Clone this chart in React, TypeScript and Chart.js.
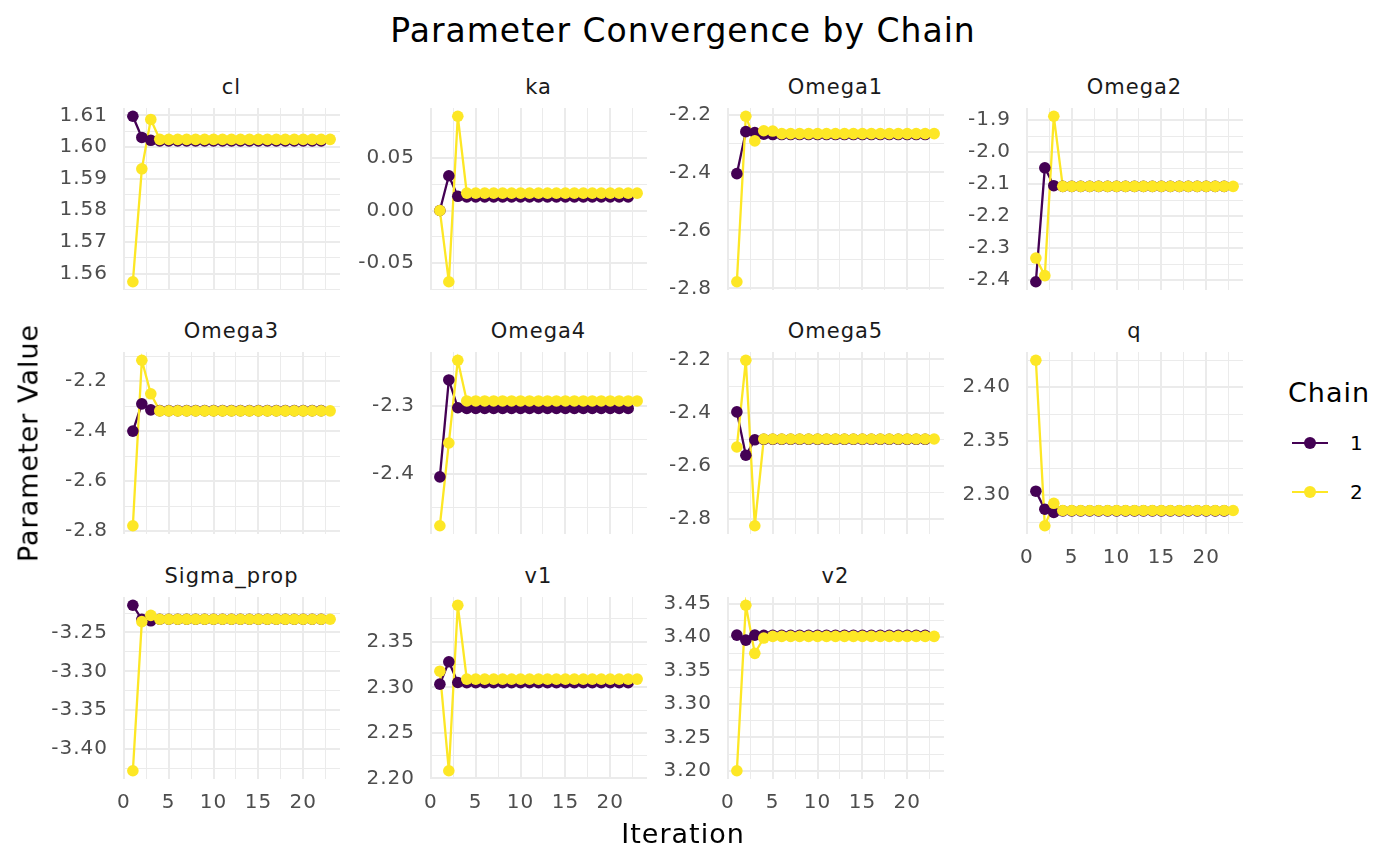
import React, { useEffect, useRef } from "react";
import { Chart, registerables } from "chart.js";

Chart.register(...registerables);

const FONT = "'DejaVu Sans', 'Noto Sans', sans-serif";
const PURPLE = "#440154";
const YELLOW = "#FDE725";
const GRID = "#EBEBEB";
const TICK_COLOR = "#4D4D4D";

const PARAMETERS = ["cl", "ka", "Omega1", "Omega2", "Omega3", "Omega4", "Omega5", "q", "Sigma_prop", "v1", "v2"];
const CHAIN_LABELS = ["1", "2"];

// chain 1: 22 iterations, chain 2: 23 iterations
const cl_chain1 = [1.6097, 1.603, 1.6021,
  1.6019, 1.6019, 1.6019, 1.6019, 1.6019, 1.6019, 1.6019, 1.6019, 1.6019, 1.6019,
  1.6019, 1.6019, 1.6019, 1.6019, 1.6019, 1.6019, 1.6019, 1.6019, 1.6019];
const cl_chain2 = [1.5574, 1.5931, 1.6087,
  1.6024, 1.6024, 1.6024, 1.6024, 1.6024, 1.6024, 1.6024, 1.6024, 1.6024, 1.6024,
  1.6024, 1.6024, 1.6024, 1.6024, 1.6024, 1.6024, 1.6024, 1.6024, 1.6024, 1.6024];

const ka_chain1 = [0.0, 0.0332, 0.0136,
  0.013, 0.013, 0.013, 0.013, 0.013, 0.013, 0.013, 0.013, 0.013, 0.013,
  0.013, 0.013, 0.013, 0.013, 0.013, 0.013, 0.013, 0.013, 0.013];
const ka_chain2 = [0.0, -0.068, 0.09,
  0.0166, 0.0166, 0.0166, 0.0166, 0.0166, 0.0166, 0.0166, 0.0166, 0.0166, 0.0166,
  0.0166, 0.0166, 0.0166, 0.0166, 0.0166, 0.0166, 0.0166, 0.0166, 0.0166, 0.0166];

const omega1_chain1 = [-2.404, -2.259, -2.262, -2.268,
  -2.269, -2.269, -2.269, -2.269, -2.269, -2.269, -2.269, -2.269, -2.269,
  -2.269, -2.269, -2.269, -2.269, -2.269, -2.269, -2.269, -2.269, -2.269];
const omega1_chain2 = [-2.777, -2.206, -2.291, -2.256, -2.257,
  -2.266, -2.266, -2.266, -2.266, -2.266, -2.266, -2.266, -2.266, -2.266,
  -2.266, -2.266, -2.266, -2.266, -2.266, -2.266, -2.266, -2.266, -2.266];

const omega2_chain1 = [-2.405, -2.049, -2.105,
  -2.107, -2.107, -2.107, -2.107, -2.107, -2.107, -2.107, -2.107, -2.107, -2.107,
  -2.107, -2.107, -2.107, -2.107, -2.107, -2.107, -2.107, -2.107, -2.107];
const omega2_chain2 = [-2.331, -2.386, -1.888,
  -2.107, -2.107, -2.107, -2.107, -2.107, -2.107, -2.107, -2.107, -2.107, -2.107,
  -2.107, -2.107, -2.107, -2.107, -2.107, -2.107, -2.107, -2.107, -2.107, -2.107];

const omega3_chain1 = [-2.4, -2.291, -2.315,
  -2.318, -2.318, -2.318, -2.318, -2.318, -2.318, -2.318, -2.318, -2.318, -2.318,
  -2.318, -2.318, -2.318, -2.318, -2.318, -2.318, -2.318, -2.318, -2.318];
const omega3_chain2 = [-2.778, -2.117, -2.251,
  -2.319, -2.319, -2.319, -2.319, -2.319, -2.319, -2.319, -2.319, -2.319, -2.319,
  -2.319, -2.319, -2.319, -2.319, -2.319, -2.319, -2.319, -2.319, -2.319, -2.319];

const omega4_chain1 = [-2.405, -2.262, -2.303,
  -2.304, -2.304, -2.304, -2.304, -2.304, -2.304, -2.304, -2.304, -2.304, -2.304,
  -2.304, -2.304, -2.304, -2.304, -2.304, -2.304, -2.304, -2.304, -2.304];
const omega4_chain2 = [-2.477, -2.355, -2.233,
  -2.293, -2.293, -2.293, -2.293, -2.293, -2.293, -2.293, -2.293, -2.293, -2.293,
  -2.293, -2.293, -2.293, -2.293, -2.293, -2.293, -2.293, -2.293, -2.293, -2.293];

const omega5_chain1 = [-2.397, -2.56, -2.502,
  -2.5, -2.5, -2.5, -2.5, -2.5, -2.5, -2.5, -2.5, -2.5, -2.5,
  -2.5, -2.5, -2.5, -2.5, -2.5, -2.5, -2.5, -2.5, -2.5];
const omega5_chain2 = [-2.529, -2.203, -2.825,
  -2.499, -2.499, -2.499, -2.499, -2.499, -2.499, -2.499, -2.499, -2.499, -2.499,
  -2.499, -2.499, -2.499, -2.499, -2.499, -2.499, -2.499, -2.499, -2.499, -2.499];

const q_chain1 = [2.3037, 2.287, 2.284,
  2.2855, 2.2855, 2.2855, 2.2855, 2.2855, 2.2855, 2.2855, 2.2855, 2.2855, 2.2855,
  2.2855, 2.2855, 2.2855, 2.2855, 2.2855, 2.2855, 2.2855, 2.2855, 2.2855];
const q_chain2 = [2.425, 2.2717, 2.2925,
  2.2858, 2.2858, 2.2858, 2.2858, 2.2858, 2.2858, 2.2858, 2.2858, 2.2858, 2.2858,
  2.2858, 2.2858, 2.2858, 2.2858, 2.2858, 2.2858, 2.2858, 2.2858, 2.2858, 2.2858];

const sigma_chain1 = [-3.215, -3.233, -3.235,
  -3.233, -3.233, -3.233, -3.233, -3.233, -3.233, -3.233, -3.233, -3.233, -3.233,
  -3.233, -3.233, -3.233, -3.233, -3.233, -3.233, -3.233, -3.233, -3.233];
const sigma_chain2 = [-3.428, -3.236, -3.228,
  -3.233, -3.233, -3.233, -3.233, -3.233, -3.233, -3.233, -3.233, -3.233, -3.233,
  -3.233, -3.233, -3.233, -3.233, -3.233, -3.233, -3.233, -3.233, -3.233, -3.233];

const v1_chain1 = [2.3035, 2.328, 2.3053,
  2.305, 2.305, 2.305, 2.305, 2.305, 2.305, 2.305, 2.305, 2.305, 2.305,
  2.305, 2.305, 2.305, 2.305, 2.305, 2.305, 2.305, 2.305, 2.305];
const v1_chain2 = [2.3177, 2.2085, 2.39,
  2.309, 2.309, 2.309, 2.309, 2.309, 2.309, 2.309, 2.309, 2.309, 2.309,
  2.309, 2.309, 2.309, 2.309, 2.309, 2.309, 2.309, 2.309, 2.309, 2.309];

const v2_chain1 = [3.4028, 3.3954, 3.4028,
  3.4025, 3.4025, 3.4025, 3.4025, 3.4025, 3.4025, 3.4025, 3.4025, 3.4025, 3.4025,
  3.4025, 3.4025, 3.4025, 3.4025, 3.4025, 3.4025, 3.4025, 3.4025, 3.4025];
const v2_chain2 = [3.2, 3.4475, 3.3756, 3.3985,
  3.401, 3.401, 3.401, 3.401, 3.401, 3.401, 3.401, 3.401, 3.401, 3.401,
  3.401, 3.401, 3.401, 3.401, 3.401, 3.401, 3.401, 3.401, 3.401];

const CHAIN1 = [cl_chain1, ka_chain1, omega1_chain1, omega2_chain1, omega3_chain1, omega4_chain1, omega5_chain1, q_chain1, sigma_chain1, v1_chain1, v2_chain1];
const CHAIN2 = [cl_chain2, ka_chain2, omega1_chain2, omega2_chain2, omega3_chain2, omega4_chain2, omega5_chain2, q_chain2, sigma_chain2, v1_chain2, v2_chain2];

const Y_TICK_STEP = [0.01, 0.05, 0.2, 0.1, 0.2, 0.1, 0.2, 0.05, 0.05, 0.05, 0.05];
const Y_TICK_DECIMALS = [2, 2, 1, 1, 1, 1, 1, 2, 2, 2, 2];
const X_TICK_STEP = 5;

// layout (page pixels)
const COL_LEFT = [123, 430, 727, 1026];
const ROW_TOP = [108, 352, 597];
const PANEL_W = 217;
const PANEL_H = 182;
const YW = 80;
const PAD_T = 14;
const PAD_B = 14;
const PAD_R = 14;
const XH = 40;
const POINT_R = 5.8;
const LINE_W = 2.3;

function expandRange(lo: number, hi: number) {
  const p = (hi - lo) * 0.05;
  return [lo - p, hi + p];
}

function gridTicks(lo: number, hi: number, step: number) {
  const half = step / 2;
  const out: { value: number; major: boolean }[] = [];
  const k0 = Math.ceil(lo / half - 1e-9);
  const k1 = Math.floor(hi / half + 1e-9);
  for (let k = k0; k <= k1; k++) {
    out.push({ value: Math.round(k * half * 1e8) / 1e8, major: k % 2 === 0 });
  }
  return out;
}

function isMajor(v: number, step: number) {
  if (v === undefined || v === null) return false;
  const r = v / step;
  return Math.abs(r - Math.round(r)) < 1e-6;
}

function fmt(v: number, d: number) {
  const s = v.toFixed(d);
  return s === "-0.00" || s === "-0.0" ? s.slice(1) : s;
}

const spacingPlugin = {
  id: "letterSpacing",
  beforeDraw(chart: any) {
    try {
      chart.ctx.letterSpacing = "1px";
    } catch (e) {}
  },
};

function Panel({ idx }: { idx: number }) {
  const ref = useRef<HTMLCanvasElement>(null);
  const col = idx % 4;
  const row = Math.floor(idx / 4);
  const showX = row === 2 || (row === 1 && col === 3);
  const cw = YW + PANEL_W + PAD_R;
  const ch = PAD_T + PANEL_H + (showX ? XH : 0) + PAD_B;

  useEffect(() => {
    const c1 = CHAIN1[idx];
    const c2 = CHAIN2[idx];
    const all = c1.concat(c2);
    const [yLo, yHi] = expandRange(Math.min(...all), Math.max(...all));
    const maxIter = Math.max(c1.length, c2.length);
    const [xLo, xHi] = expandRange(1, maxIter);
    const yStep = Y_TICK_STEP[idx];
    const yDec = Y_TICK_DECIMALS[idx];
    const p1 = c1.map((y, i) => ({ x: i + 1, y }));
    const p2 = c2.map((y, i) => ({ x: i + 1, y }));

    const tickFont = { family: FONT, size: 20 };

    // Chart.js draws lower "order" on top: yellow points top-most, purple line bottom-most
    const chart = new Chart(ref.current as HTMLCanvasElement, {
      type: "line",
      data: {
        datasets: [
          { label: "1", order: 4, data: p1, borderColor: PURPLE, borderWidth: LINE_W, pointRadius: 0, fill: false, tension: 0 },
          { label: "2", order: 3, data: p2, borderColor: YELLOW, borderWidth: LINE_W, pointRadius: 0, fill: false, tension: 0 },
          { label: "1p", order: 2, data: p1, showLine: false, pointRadius: POINT_R, pointBorderWidth: 0, pointBackgroundColor: PURPLE, borderColor: PURPLE },
          { label: "2p", order: 1, data: p2, showLine: false, pointRadius: POINT_R, pointBorderWidth: 0, pointBackgroundColor: YELLOW, borderColor: YELLOW },
        ],
      } as any,
      options: {
        animation: false,
        responsive: false,
        events: [],
        layout: { padding: { top: PAD_T, bottom: PAD_B, right: PAD_R, left: 0 } },
        plugins: { legend: { display: false }, tooltip: { enabled: false } },
        scales: {
          x: {
            type: "linear",
            min: xLo,
            max: xHi,
            afterBuildTicks: (s: any) => {
              s.ticks = gridTicks(xLo, xHi, X_TICK_STEP).map((t) => ({ value: t.value }));
            },
            afterFit: (s: any) => {
              s.height = showX ? XH : 0;
              s.paddingLeft = 0;
              s.paddingRight = 0;
              s.paddingTop = 0;
              s.paddingBottom = 0;
            },
            grid: {
              color: GRID,
              drawTicks: false,
              lineWidth: (ctx: any) => (ctx.tick && isMajor(ctx.tick.value, X_TICK_STEP) ? 2 : 1),
            },
            border: { display: false },
            ticks: {
              display: showX,
              autoSkip: false,
              maxRotation: 0,
              minRotation: 0,
              padding: 12,
              color: TICK_COLOR,
              font: tickFont,
              callback: (v: any) => (isMajor(Number(v), X_TICK_STEP) ? String(Math.round(Number(v))) : ""),
            },
          },
          y: {
            type: "linear",
            min: yLo,
            max: yHi,
            afterBuildTicks: (s: any) => {
              s.ticks = gridTicks(yLo, yHi, yStep).map((t) => ({ value: t.value }));
            },
            afterFit: (s: any) => {
              s.width = YW;
              s.paddingLeft = 0;
              s.paddingRight = 0;
              s.paddingTop = 0;
              s.paddingBottom = 0;
            },
            grid: {
              color: GRID,
              drawTicks: false,
              lineWidth: (ctx: any) => (ctx.tick && isMajor(ctx.tick.value, yStep) ? 2 : 1),
            },
            border: { display: false },
            ticks: {
              autoSkip: false,
              padding: 15,
              color: TICK_COLOR,
              font: tickFont,
              callback: (v: any) => (isMajor(Number(v), yStep) ? fmt(Number(v), yDec) : ""),
            },
          },
        },
      } as any,
      plugins: [spacingPlugin],
    });
    return () => chart.destroy();
  }, [idx]);

  return (
    <canvas
      ref={ref}
      width={cw}
      height={ch}
      style={{
        position: "absolute",
        left: COL_LEFT[col] - YW,
        top: ROW_TOP[row] - PAD_T,
        width: cw,
        height: ch,
      }}
    />
  );
}

function Txt({ x, y, size, color, children, rotate, spacing }: any) {
  return (
    <div
      style={{
        position: "absolute",
        left: x,
        top: y,
        transform: `translate(-50%, -50%)${rotate ? " rotate(-90deg)" : ""}`,
        fontFamily: FONT,
        fontSize: size,
        color,
        lineHeight: 1,
        whiteSpace: "nowrap",
        letterSpacing: spacing ?? 1,
      }}
    >
      {children}
    </div>
  );
}

export default function App() {
  const plotCenterX = (COL_LEFT[0] + COL_LEFT[3] + PANEL_W) / 2;
  return (
    <div style={{ position: "absolute", left: 0, top: 0, width: 1400, height: 865, background: "#FFFFFF", overflow: "hidden" }}>
      <Txt x={plotCenterX} y={30} size={33} color="#000000">Parameter Convergence by Chain</Txt>
      {PARAMETERS.map((p, i) => (
        <Txt key={"s" + p} x={COL_LEFT[i % 4] + PANEL_W / 2} y={ROW_TOP[Math.floor(i / 4)] - 21} size={21} color="#1A1A1A">
          {p}
        </Txt>
      ))}
      {PARAMETERS.map((p, i) => (
        <Panel key={p} idx={i} />
      ))}
      <Txt x={plotCenterX} y={833} size={27} color="#000000">Iteration</Txt>
      <Txt x={28} y={443} size={27} color="#000000" rotate>Parameter Value</Txt>
      <div style={{ position: "absolute", left: 1288, top: 392, transform: "translateY(-50%)", fontFamily: FONT, fontSize: 27, lineHeight: 1, letterSpacing: 1, color: "#000" }}>
        Chain
      </div>
      {CHAIN_LABELS.map((lab, i) => {
        const cy = i === 0 ? 443 : 492;
        const col = i === 0 ? PURPLE : YELLOW;
        return (
          <React.Fragment key={"lg" + lab}>
            <div style={{ position: "absolute", left: 1292, top: cy - 1, width: 36, height: 2, background: col }} />
            <div style={{ position: "absolute", left: 1304, top: cy - 6, width: 12, height: 12, borderRadius: 6, background: col }} />
            <div style={{ position: "absolute", left: 1350, top: cy, transform: "translateY(-50%)", fontFamily: FONT, fontSize: 20, lineHeight: 1, color: "#000" }}>
              {lab}
            </div>
          </React.Fragment>
        );
      })}
    </div>
  );
}
